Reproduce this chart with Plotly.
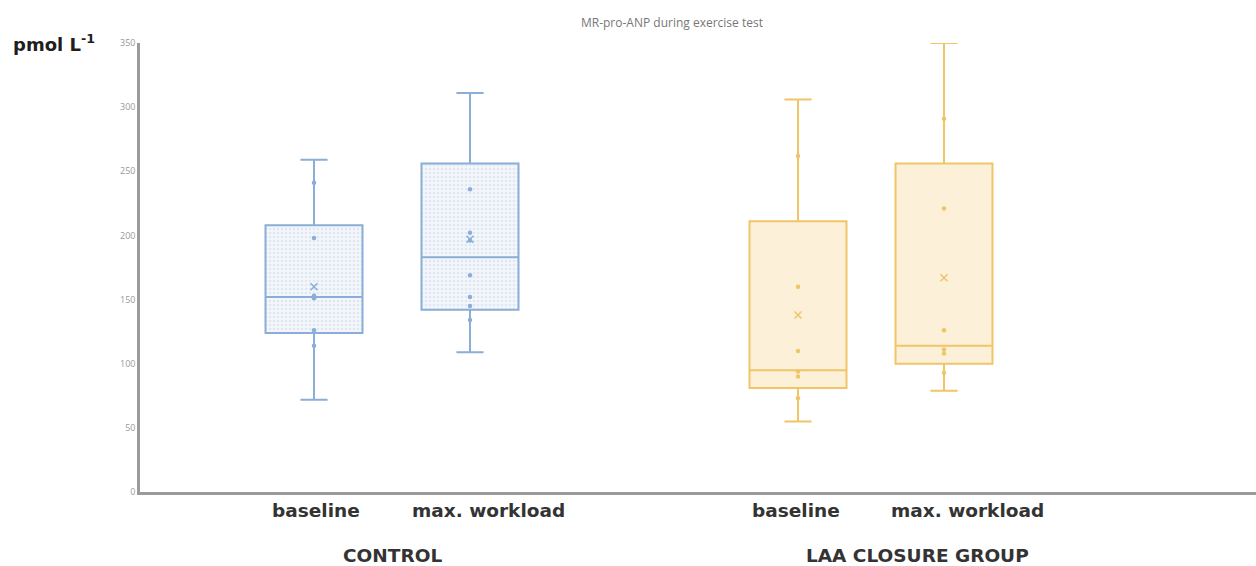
import plotly.graph_objects as go

# ---- data ----
groups = ["CONTROL", "CONTROL", "LAA CLOSURE GROUP", "LAA CLOSURE GROUP"]
conditions = ["baseline", "max. workload", "baseline", "max. workload"]
q1 = [124, 142, 81, 100]
median = [152, 183, 95, 114]
q3 = [208, 256, 211, 256]
lower = [72, 109, 55, 79]
upper = [259, 311, 306, 350]
means = [160, 197, 138, 167]
points = [
    [241, 198, 153, 151, 126, 114],
    [236, 202, 196, 169, 152, 145, 134],
    [262, 160, 110, 94, 90, 73],
    [291, 221, 126, 111, 108, 93],
]
y_ticks = [0, 50, 100, 150, 200, 250, 300, 350]
group_labels = ["CONTROL", "LAA CLOSURE GROUP"]

# ---- layout positions / styles ----
box_x = [1.74, 3.30, 6.58, 8.04]
label_x = [1.76, 3.48, 6.56, 8.27]
group_label_x = [2.52, 7.77]
line_colors = ["#8aaed8", "#8aaed8", "#f0c568", "#f0c568"]
fill_colors = ["rgba(0,0,0,0)", "rgba(0,0,0,0)", "#fcf0d9", "#fcf0d9"]
box_w = 0.97
label_font = dict(family="DejaVu Sans", size=18.5, color="#333333", weight=700)

fig = go.Figure()

# dotted fill for control boxes
fig.add_trace(go.Bar(
    x=box_x[:2], y=[q3[i] - q1[i] for i in range(2)], base=q1[:2], width=box_w,
    marker=dict(color="#f3f6fa", line=dict(width=0),
                pattern=dict(shape=".", fgcolor="#c9d7ea", bgcolor="#f3f6fa", size=4, solidity=0.35)),
    hoverinfo="skip", showlegend=False,
))

for i in range(4):
    fig.add_trace(go.Box(
        x=[box_x[i]], q1=[q1[i]], median=[median[i]], q3=[q3[i]],
        lowerfence=[lower[i]], upperfence=[upper[i]],
        width=box_w, whiskerwidth=0.28,
        line=dict(color=line_colors[i], width=2),
        fillcolor=fill_colors[i], boxpoints=False, showlegend=False,
        name=f"{groups[i]} {conditions[i]}",
    ))
    fig.add_trace(go.Scatter(
        x=[box_x[i]] * len(points[i]), y=points[i], mode="markers",
        marker=dict(color=line_colors[i], size=4.5), showlegend=False,
    ))
    fig.add_trace(go.Scatter(
        x=[box_x[i]], y=[means[i]], mode="markers",
        marker=dict(color=line_colors[i], size=7, symbol="x-thin",
                    line=dict(color=line_colors[i], width=1.5)),
        showlegend=False,
    ))

annotations = []
for i in range(4):
    annotations.append(dict(
        x=label_x[i], y=0, xref="x", yref="y", yshift=-18, yanchor="middle",
        text=conditions[i], showarrow=False, font=label_font,
    ))
for j in range(2):
    annotations.append(dict(
        x=group_label_x[j], y=0, xref="x", yref="y", yshift=-63, yanchor="middle",
        text=group_labels[j], showarrow=False, font=label_font,
    ))
annotations.append(dict(
    x=-0.1155, y=1.0, xref="paper", yref="paper", xanchor="left", yanchor="middle",
    text="pmol L<sup>-1</sup>", showarrow=False,
    font=dict(family="DejaVu Sans", size=18, color="#1e1e1e", weight=700),
))

fig.update_layout(
    width=1256, height=566,
    margin=dict(l=140, r=0, t=43, b=74),
    plot_bgcolor="white", paper_bgcolor="white",
    barmode="overlay",
    title=dict(text="MR-pro-ANP during exercise test", x=0.535, xanchor="center",
               y=0.96, yanchor="middle",
               font=dict(family="Open Sans", size=12, color="#777777")),
    xaxis=dict(range=[0, 11.16], showticklabels=False, ticks="", showgrid=False,
               zeroline=False, showline=True, linecolor="#9a9a9a", linewidth=2.5),
    yaxis=dict(range=[0, 350], tickvals=y_ticks, showgrid=False, zeroline=False,
               showline=True, linecolor="#9a9a9a", linewidth=2.5, ticks="",
               tickfont=dict(family="Open Sans", size=9, color="#999999")),
    annotations=annotations,
)

fig.write_html("out.html", config={"displayModeBar": False},
               post_script="document.body.style.margin='0';document.body.style.overflow='hidden';")
